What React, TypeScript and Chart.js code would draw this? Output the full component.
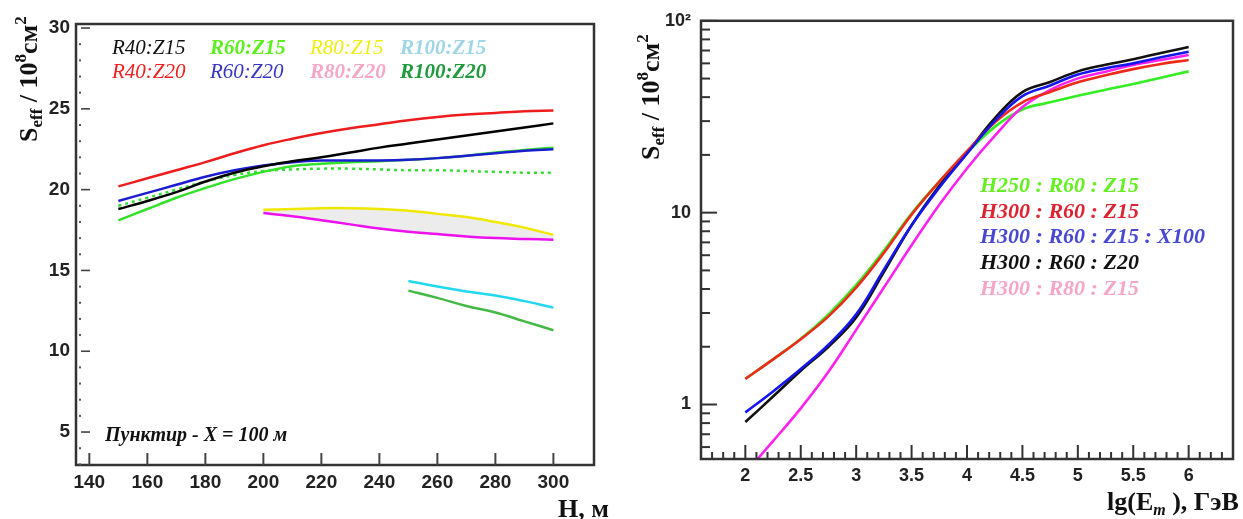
import React, { useEffect, useRef } from 'react';
import { Chart, registerables } from 'chart.js';
Chart.register(...registerables);

// ---------- Left panel data (H, m vs Seff) ----------
const hFull = [150, 160, 170, 180, 190, 200, 210, 220, 230, 240, 250, 260, 270, 280, 290, 300];
const hMid = [200, 210, 220, 230, 240, 250, 260, 270, 280, 290, 300];
const hEnd = [250, 260, 270, 280, 290, 300];
const r40z20 = [20.2, 20.7, 21.2, 21.7, 22.25, 22.75, 23.15, 23.5, 23.8, 24.05, 24.3, 24.5, 24.65, 24.75, 24.85, 24.9];
const r40z15 = [18.8, 19.3, 19.85, 20.5, 21.05, 21.45, 21.75, 22.0, 22.3, 22.6, 22.85, 23.1, 23.35, 23.6, 23.85, 24.1];
const r60z20 = [19.3, 19.8, 20.3, 20.8, 21.2, 21.5, 21.7, 21.8, 21.8, 21.8, 21.85, 21.95, 22.1, 22.25, 22.4, 22.5];
const r60z15 = [18.1, 18.8, 19.5, 20.1, 20.65, 21.1, 21.45, 21.6, 21.7, 21.75, 21.85, 21.95, 22.1, 22.3, 22.45, 22.6];
const r60z15x100 = [19.0, 19.5, 20.0, 20.5, 20.9, 21.15, 21.25, 21.3, 21.3, 21.25, 21.2, 21.2, 21.15, 21.1, 21.05, 21.05];
const r80z15 = [18.75, 18.8, 18.85, 18.85, 18.8, 18.7, 18.5, 18.3, 18.0, 17.65, 17.2];
const r80z20 = [18.55, 18.35, 18.1, 17.85, 17.6, 17.4, 17.25, 17.1, 17.0, 16.95, 16.9];
const r100z15 = [14.35, 14.0, 13.7, 13.45, 13.1, 12.7];
const r100z20 = [13.75, 13.3, 12.8, 12.4, 11.85, 11.3];
const leftXTicks = [140, 160, 180, 200, 220, 240, 260, 280, 300];
const leftYTicks = [5, 10, 15, 20, 25, 30];
const leftLegendRow1 = ['R40:Z15', 'R60:Z15', 'R80:Z15', 'R100:Z15'];
const leftLegendRow2 = ['R40:Z20', 'R60:Z20', 'R80:Z20', 'R100:Z20'];
const leftNote = 'Пунктир - X = 100 м';

// ---------- Right panel data (lg Em vs Seff, log) ----------
const lgE = [2, 2.25, 2.5, 2.75, 3, 3.25, 3.5, 3.75, 4, 4.25, 4.5, 4.75, 5, 5.25, 5.5, 5.75, 6];
const h250r60z15 = [1.36, 1.72, 2.2, 2.95, 4.2, 6.35, 9.9, 14.5, 20.5, 28, 34.5, 37.6, 40.7, 43.7, 46.8, 50.5, 54.5];
const h300r60z15 = [1.36, 1.72, 2.19, 2.88, 4.07, 6.17, 9.77, 14.5, 20.9, 29.5, 37.6, 42.5, 47.8, 52, 56, 59.6, 62.5];
const h300r60z15x100 = [0.91, 1.17, 1.53, 2.05, 2.95, 5.05, 8.6, 13.5, 20.3, 30, 40.5, 46, 52.5, 56.5, 60, 64.5, 69];
const h300r60z20 = [0.81, 1.1, 1.5, 2.0, 2.84, 4.9, 8.6, 13.8, 20.5, 31, 42.5, 48, 54.5, 59, 63, 68, 73];
const h300r80z15 = [0.44, 0.645, 0.955, 1.48, 2.45, 4.07, 6.76, 11.0, 17.0, 25.1, 35.5, 43.6, 50.1, 54.3, 58.9, 62.4, 66.4];
const rightXTicks = [2, 2.5, 3, 3.5, 4, 4.5, 5, 5.5, 6];
const rightYTicks = [1, 10, 100];
const rightLegend = ['H250 : R60 : Z15', 'H300 : R60 : Z15', 'H300 : R60 : Z15 : X100', 'H300 : R60 : Z20', 'H300 : R80 : Z15'];

const SERIF = '"Liberation Serif", "Times New Roman", serif';
const SANS = '"Liberation Sans", Arial, sans-serif';

type Run = { t: string; size: number; dy?: number; italic?: boolean; bold?: boolean; color?: string };
function drawRuns(ctx: CanvasRenderingContext2D, runs: Run[], x: number, y: number, color = '#111') {
  let cx = x;
  ctx.textAlign = 'left';
  ctx.textBaseline = 'alphabetic';
  for (const r of runs) {
    ctx.font = `${r.italic ? 'italic ' : ''}${r.bold === false ? '' : 'bold '}${r.size}px ${SERIF}`;
    ctx.fillStyle = r.color || color;
    ctx.fillText(r.t, cx, y + (r.dy || 0));
    cx += ctx.measureText(r.t).width;
  }
}

function seffRuns(): Run[] {
  return [
    { t: 'S', size: 26 },
    { t: 'eff', size: 17, dy: 5 },
    { t: ' / 10', size: 26 },
    { t: '8', size: 17, dy: -11 },
    { t: 'см', size: 26 },
    { t: '2', size: 17, dy: -11 },
  ];
}

const pts = (xs: number[], ys: number[]) => xs.map((x, i) => ({ x, y: ys[i] }));

const leftPlugin = {
  id: 'leftDecor',
  afterDraw(chart: any) {
    const ctx: CanvasRenderingContext2D = chart.ctx;
    const { left, right, top, bottom } = chart.chartArea;
    const xs = chart.scales.x;
    const ys = chart.scales.y;
    ctx.save();
    ctx.strokeStyle = '#333';
    ctx.lineWidth = 2.5;
    ctx.strokeRect(left, top, right - left, bottom - top);
    ctx.lineWidth = 1.6;
    ctx.strokeStyle = '#444';
    for (const v of leftYTicks) {
      const y = ys.getPixelForValue(v);
      ctx.beginPath();
      ctx.moveTo(left + 5, y);
      ctx.lineTo(left + 14, y);
      ctx.stroke();
    }
    ctx.fillStyle = '#555';
    for (let v = 3; v <= 30; v++) {
      if (v % 5 === 0) continue;
      const y = ys.getPixelForValue(v);
      ctx.fillRect(left + 3, y - 1, 2, 2);
    }
    ctx.lineWidth = 2;
    ctx.strokeStyle = '#444';
    for (const v of leftXTicks) {
      const x = xs.getPixelForValue(v);
      ctx.beginPath();
      ctx.moveTo(x, bottom);
      ctx.lineTo(x, bottom - 12);
      ctx.stroke();
    }
    const cols = [112, 210, 310, 400];
    const row1Style = [
      { color: '#111', bold: false },
      { color: '#5cf01c', bold: true },
      { color: '#eeee10', bold: false },
      { color: '#9fd6e6', bold: true },
    ];
    const row2Style = [
      { color: '#ee2020', bold: false },
      { color: '#3636c0', bold: false },
      { color: '#f4a8c4', bold: true },
      { color: '#1f9a3c', bold: true },
    ];
    leftLegendRow1.forEach((t, i) =>
      drawRuns(ctx, [{ t, size: 21, italic: true, bold: row1Style[i].bold, color: row1Style[i].color }], cols[i], 54)
    );
    leftLegendRow2.forEach((t, i) =>
      drawRuns(ctx, [{ t, size: 21, italic: true, bold: row2Style[i].bold, color: row2Style[i].color }], cols[i], 78)
    );
    drawRuns(ctx, [{ t: leftNote, size: 20, italic: true, bold: true }], 105, 441);
    drawRuns(ctx, [{ t: 'H, м', size: 26 }], 558, 517);
    ctx.save();
    ctx.translate(37, 142);
    ctx.rotate(-Math.PI / 2);
    drawRuns(ctx, seffRuns(), 0, 0);
    ctx.restore();
    ctx.restore();
  },
};

const rightPlugin = {
  id: 'rightDecor',
  afterDraw(chart: any) {
    const ctx: CanvasRenderingContext2D = chart.ctx;
    const { left, right, top, bottom } = chart.chartArea;
    const xs = chart.scales.x;
    const ys = chart.scales.y;
    ctx.save();
    ctx.strokeStyle = '#333';
    ctx.lineWidth = 2.5;
    ctx.strokeRect(left, top, right - left, bottom - top);
    ctx.lineWidth = 2;
    ctx.strokeStyle = '#333';
    for (const dec of [0.1, 1, 10]) {
      for (let m = 1; m <= 9; m++) {
        const v = dec * m;
        if (v < 0.52 || v > 100) continue;
        const major = m === 1;
        const y = ys.getPixelForValue(v);
        ctx.beginPath();
        ctx.moveTo(left, y);
        ctx.lineTo(left + (major ? 16 : 9), y);
        ctx.stroke();
      }
    }
    {
      const y = ys.getPixelForValue(100);
      ctx.beginPath();
      ctx.moveTo(left, y);
      ctx.lineTo(left + 16, y);
      ctx.stroke();
    }
    for (let k = 17; k <= 63; k++) {
      const v = k / 10;
      const major = k % 5 === 0 && k >= 20 && k <= 60;
      const x = xs.getPixelForValue(v);
      ctx.beginPath();
      ctx.moveTo(x, bottom);
      ctx.lineTo(x, bottom - (major ? 14 : 7));
      ctx.stroke();
    }
    const colors = ['#66ee22', '#dd2230', '#4848d0', '#111111', '#f5a6c6'];
    const bases = [192, 218, 243, 269, 295];
    rightLegend.forEach((t, i) =>
      drawRuns(ctx, [{ t, size: 22, italic: true, bold: true, color: colors[i] }], 360, bases[i])
    );
    drawRuns(
      ctx,
      [
        { t: 'lg(E', size: 26 },
        { t: 'm', size: 16, dy: 5, italic: true },
        { t: ' ), ГэВ', size: 26 },
      ],
      487,
      510
    );
    ctx.save();
    ctx.translate(39, 160);
    ctx.rotate(-Math.PI / 2);
    drawRuns(ctx, seffRuns(), 0, 0);
    ctx.restore();
    ctx.restore();
  },
};

function leftConfig(): any {
  const line = (data: any, color: string, extra: any = {}) => ({
    data,
    borderColor: color,
    borderWidth: 2.5,
    pointRadius: 0,
    tension: 0.4,
    fill: false,
    ...extra,
  });
  return {
    type: 'line',
    data: {
      datasets: [
        line(pts(hFull, r40z20), '#ee1c1c'),
        line(pts(hFull, r40z15), '#000000'),
        line(pts(hFull, r60z20), '#1c1cd0'),
        line(pts(hFull, r60z15), '#33e02a'),
        line(pts(hFull, r60z15x100), '#33dd33', { borderDash: [3, 4] }),
        line(pts(hMid, r80z15), '#f0e800', { fill: '+1', backgroundColor: '#ececec' }),
        line(pts(hMid, r80z20), '#ee10ee'),
        line(pts(hEnd, r100z15), '#22d8ee'),
        line(pts(hEnd, r100z20), '#44b844'),
      ],
    },
    options: {
      responsive: false,
      animation: false,
      devicePixelRatio: 1,
      events: [],
      layout: { padding: { left: 0, right: 26, top: 24, bottom: 24 } },
      plugins: {
        legend: { display: false },
        tooltip: { enabled: false },
        filler: { drawTime: 'beforeDatasetsDraw' },
      },
      scales: {
        x: {
          type: 'linear',
          min: 135.4,
          max: 314,
          afterBuildTicks: (s: any) => {
            s.ticks = leftXTicks.map((value) => ({ value }));
          },
          afterFit: (s: any) => {
            s.height = 30;
          },
          grid: { display: false, drawTicks: false },
          border: { display: false },
          ticks: {
            autoSkip: false,
            maxRotation: 0,
            padding: 6,
            color: '#222',
            font: { family: SANS, size: 19, weight: 'bold' },
            callback: (v: any) => String(v),
          },
        },
        y: {
          type: 'linear',
          min: 2.96,
          max: 30.25,
          afterBuildTicks: (s: any) => {
            s.ticks = leftYTicks.map((value) => ({ value }));
          },
          afterFit: (s: any) => {
            s.width = 76;
          },
          grid: { display: false, drawTicks: false },
          border: { display: false },
          ticks: {
            padding: 6,
            color: '#222',
            font: { family: SANS, size: 19, weight: 'bold' },
            callback: (v: any) => String(v),
          },
        },
      },
    },
    plugins: [leftPlugin],
  };
}

function rightConfig(): any {
  const line = (ys: number[], color: string) => ({
    data: pts(lgE, ys),
    borderColor: color,
    borderWidth: 2.6,
    pointRadius: 0,
    tension: 0.4,
    fill: false,
  });
  return {
    type: 'line',
    data: {
      datasets: [
        line(h300r60z15x100, '#1515ee'),
        line(h300r60z15, '#ee2a1a'),
        line(h300r60z20, '#111111'),
        line(h300r80z15, '#ff22ee'),
        line(h250r60z15, '#33ee22'),
      ],
    },
    options: {
      responsive: false,
      animation: false,
      devicePixelRatio: 1,
      events: [],
      layout: { padding: { left: 0, right: 10, top: 18, bottom: 30 } },
      plugins: { legend: { display: false }, tooltip: { enabled: false } },
      scales: {
        x: {
          type: 'linear',
          min: 1.6,
          max: 6.4,
          afterBuildTicks: (s: any) => {
            s.ticks = rightXTicks.map((value) => ({ value }));
          },
          afterFit: (s: any) => {
            s.height = 30;
          },
          grid: { display: false, drawTicks: false },
          border: { display: false },
          ticks: {
            autoSkip: false,
            maxRotation: 0,
            padding: 6,
            color: '#222',
            font: { family: SANS, size: 18, weight: 'bold' },
            callback: (v: any) => String(v),
          },
        },
        y: {
          type: 'logarithmic',
          min: 0.52,
          max: 100,
          afterBuildTicks: (s: any) => {
            s.ticks = rightYTicks.map((value) => ({ value }));
          },
          afterFit: (s: any) => {
            s.width = 81;
          },
          grid: { display: false, drawTicks: false },
          border: { display: false },
          ticks: {
            padding: 10,
            color: '#222',
            font: { family: SANS, size: 18, weight: 'bold' },
            callback: (v: any) => (v === 100 ? '10²' : String(v)),
          },
        },
      },
    },
    plugins: [rightPlugin],
  };
}

export default function App() {
  const leftRef = useRef<HTMLCanvasElement>(null);
  const rightRef = useRef<HTMLCanvasElement>(null);
  useEffect(() => {
    const c1 = new Chart(leftRef.current as HTMLCanvasElement, leftConfig());
    const c2 = new Chart(rightRef.current as HTMLCanvasElement, rightConfig());
    return () => {
      c1.destroy();
      c2.destroy();
    };
  }, []);
  return (
    <div style={{ position: 'absolute', left: 0, top: 0, width: 1243, height: 519, background: '#fff', overflow: 'hidden' }}>
      <canvas ref={leftRef} width={620} height={519} style={{ position: 'absolute', left: 0, top: 0, width: 620, height: 519 }} />
      <canvas ref={rightRef} width={623} height={519} style={{ position: 'absolute', left: 620, top: 0, width: 623, height: 519 }} />
    </div>
  );
}
